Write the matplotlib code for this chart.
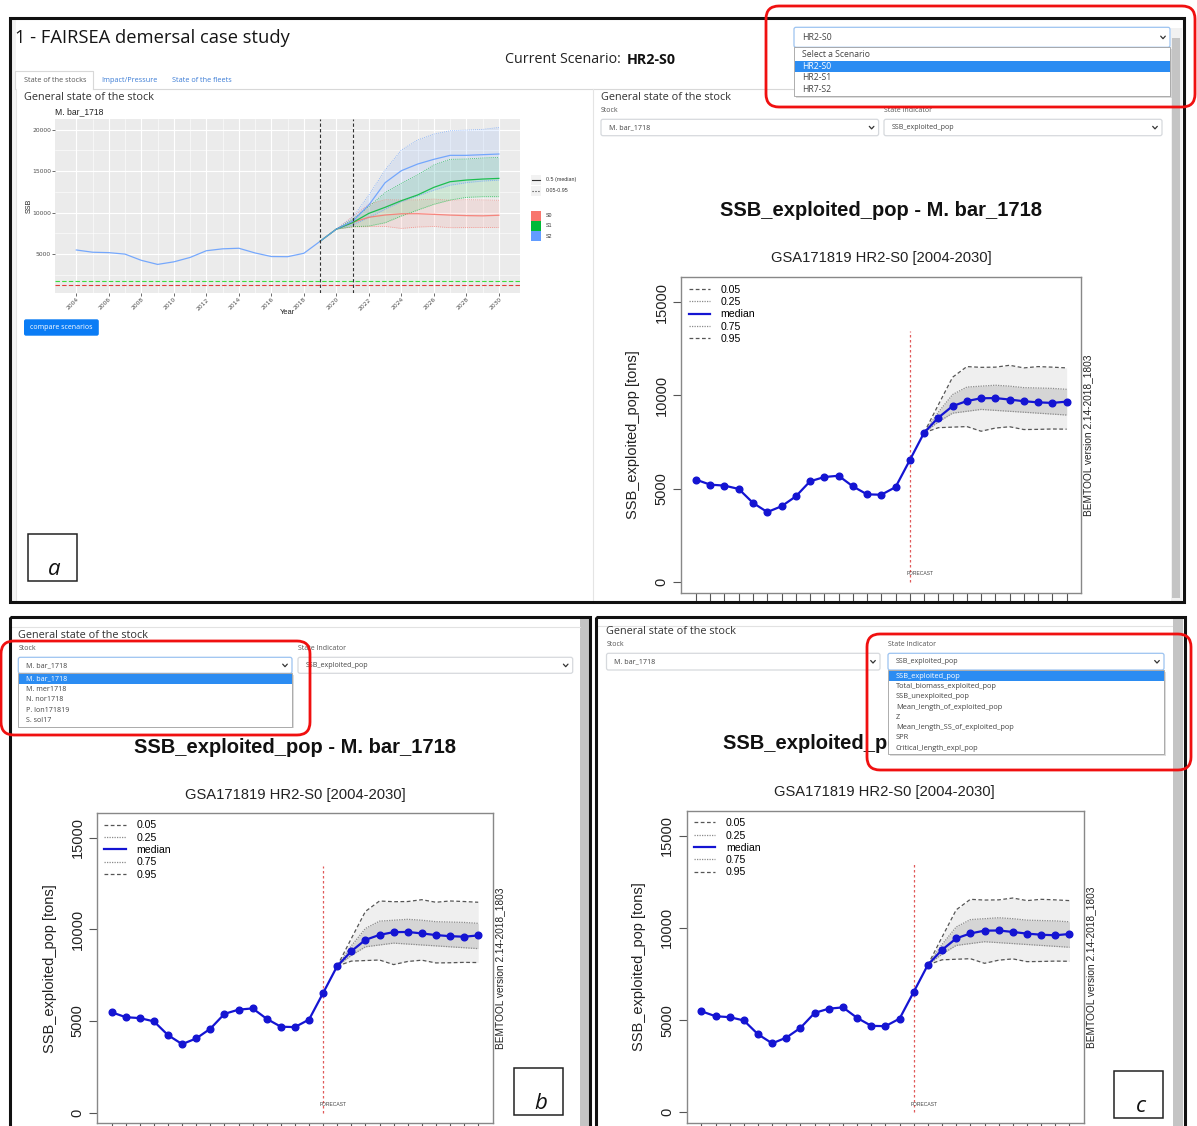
import numpy as np
import matplotlib
matplotlib.use("Agg")
import matplotlib.pyplot as plt
from matplotlib.patches import Rectangle, FancyBboxPatch
from matplotlib.lines import Line2D

W, H = 1197, 1126
UI = ["Open Sans", "DejaVu Sans"]
RF = ["Liberation Sans", "DejaVu Sans"]

# SSB of M. bar_1718 (tons)
hist_years = list(range(2004, 2020))
ssb_hist = [5480, 5210, 5160, 4980, 4230, 3740, 4050, 4580, 5390, 5620, 5690, 5120, 4690, 4670, 5080, 6530]
fc_years = list(range(2020, 2031))

# scenario S0 (HR2-S0) quantiles, BEMTOOL output
s0_med = [8000, 8810, 9430, 9700, 9850, 9860, 9780, 9690, 9630, 9600, 9670]
s0_q05 = [8000, 8270, 8300, 8330, 8080, 8250, 8320, 8170, 8180, 8200, 8190]
s0_q25 = [8000, 8580, 9050, 9150, 9250, 9200, 9150, 9100, 9050, 9000, 8950]
s0_q75 = [8000, 9100, 10050, 10450, 10500, 10550, 10500, 10420, 10400, 10380, 10330]
s0_q95 = [8000, 9500, 10980, 11550, 11510, 11520, 11620, 11480, 11550, 11520, 11480]

# scenarios S1 and S2 (compare plot)
s1_med = [8000, 8780, 9900, 10630, 11430, 12120, 13040, 13720, 13920, 14040, 14120]
s1_q05 = [8000, 8290, 8370, 8770, 9580, 10300, 10990, 11510, 11830, 11910, 11910]
s1_q95 = [8000, 9180, 10710, 12400, 13530, 14540, 15740, 16420, 16460, 16580, 16660]
s2_med = [8000, 8950, 10910, 13600, 15050, 15850, 16420, 16900, 16900, 16980, 17060]
s2_q05 = [8000, 8500, 9400, 10400, 11300, 12000, 12700, 13300, 13600, 13800, 13900]
s2_q95 = [8000, 9420, 12115, 15130, 17540, 18750, 19470, 19870, 19950, 20030, 20270]

ref_green = 1775
ref_red = 1255
scenario_names = ["S0", "S1", "S2"]
scenario_opts = ["Select a Scenario", "HR2-S0", "HR2-S1", "HR7-S2"]
stock_opts = ["M. bar_1718", "M. mer1718", "N. nor1718", "P. lon171819", "S. sol17"]
indicator_opts = ["SSB_exploited_pop", "Total_biomass_exploited_pop", "SSB_unexploited_pop",
                  "Mean_length_of_exploited_pop", "Z", "Mean_length_SS_of_exploited_pop",
                  "SPR", "Critical_length_expl_pop"]
legend_q = ["0.05", "0.25", "median", "0.75", "0.95"]

years = hist_years + fc_years
median = ssb_hist + s0_med

fig = plt.figure(figsize=(W / 100, H / 100), dpi=100)
bg = fig.add_axes([0, 0, 1, 1])
bg.set_xlim(0, W)
bg.set_ylim(H, 0)
bg.axis("off")


def px(l, t, r, b):
    return [l / W, 1 - b / H, (r - l) / W, (b - t) / H]


def txt(x, y, s, size=5.2, color="#444444", **kw):
    kw.setdefault("va", "center")
    kw.setdefault("family", UI)
    bg.text(x, y, s, fontsize=size, color=color, **kw)


def chevron(x, y, s=2.3):
    bg.plot([x - s, x, x + s], [y - s * 0.5, y + s * 0.6, y - s * 0.5], color="#333333", lw=0.9,
            solid_capstyle="round", zorder=6)


def select(x0, y0, x1, y1, label, focused=False, size=5.1):
    ec = "#9CC3F0" if focused else "#D6D9DD"
    bg.add_patch(FancyBboxPatch((x0, y0), x1 - x0, y1 - y0, boxstyle="round,pad=0,rounding_size=2",
                                fc="white", ec=ec, lw=0.9, zorder=4))
    txt(x0 + 8, (y0 + y1) / 2, label, size=size, zorder=5)
    chevron(x1 - 7, (y0 + y1) / 2)


def droplist(x0, y0, x1, items, sel, row, top=1.0, size=5.2):
    y1 = y0 + top + row * len(items) + 1
    bg.add_patch(Rectangle((x0 + 1.5, y0 + 1.5), x1 - x0, y1 - y0, fc="#BBBBBB", ec="none", alpha=0.5, zorder=7))
    bg.add_patch(Rectangle((x0, y0), x1 - x0, y1 - y0, fc="white", ec="#A0A0A0", lw=0.6, zorder=8))
    for i, it in enumerate(items):
        yc = y0 + top + (i + 0.5) * row
        col = "#444444"
        if i == sel:
            bg.add_patch(Rectangle((x0 + 0.5, yc - row / 2), x1 - x0 - 1, row, fc="#2B8CF2", ec="none", zorder=9))
            col = "white"
        txt(x0 + 8, yc, it, size=size, color=col, zorder=10)


def bemtool(rect):
    ax = fig.add_axes(px(*rect))
    ax.fill_between(fc_years, s0_q05, s0_q95, color="#EFEFEF", lw=0)
    ax.fill_between(fc_years, s0_q25, s0_q75, color="#D5D5D5", lw=0)
    dash = (0, (3, 2))
    dot = (0, (1, 1))
    ax.plot(fc_years, s0_q05, ls=dash, color="#555555", lw=0.9)
    ax.plot(fc_years, s0_q95, ls=dash, color="#555555", lw=0.9)
    ax.plot(fc_years, s0_q25, ls=dot, color="#8A8A8A", lw=0.9)
    ax.plot(fc_years, s0_q75, ls=dot, color="#8A8A8A", lw=0.9)
    ax.plot([2019, 2019], [0, 13450], ls=(0, (2, 2)), color="#E05A5A", lw=0.9)
    ax.plot(years, median, color="#1414D2", lw=1.6, marker="o", ms=4.8)
    ax.text(2018.75, 450, "FORECAST", fontsize=3.6, color="#444444", va="center", family=RF)
    ax.set_xlim(2002.97, 2031.02)
    ax.set_ylim(-585, 16350)
    ax.set_xticks(years)
    ax.set_xticklabels([])
    ax.set_yticks([0, 5000, 10000, 15000])
    ax.set_yticklabels(["0", "5000", "10000", "15000"], rotation=90, va="center",
                       fontsize=10.5, family=RF, color="#222222")
    ax.tick_params(direction="out", length=6, width=0.8, color="#555555", pad=3)
    for s in ax.spines.values():
        s.set_color("#888888")
        s.set_linewidth(1.0)
    ax.text(-0.12, 0.5, "SSB_exploited_pop [tons]", transform=ax.transAxes, rotation=90,
            ha="center", va="center", fontsize=10.5, family=RF, color="#222222")
    ax.text(1.018, 0.5, "BEMTOOL version 2.14-2018_1803", transform=ax.transAxes, rotation=90,
            ha="center", va="center", fontsize=7.3, family=RF, color="#222222")
    handles = [Line2D([], [], ls=dash, color="#555555", lw=0.9),
               Line2D([], [], ls=dot, color="#8A8A8A", lw=0.9),
               Line2D([], [], color="#1414D2", lw=1.6),
               Line2D([], [], ls=dot, color="#8A8A8A", lw=0.9),
               Line2D([], [], ls=dash, color="#555555", lw=0.9)]
    ax.legend(handles, legend_q, loc="upper left", frameon=False, prop={"family": RF, "size": 7.6},
              handlelength=2.0, handletextpad=1.0, labelspacing=0.22, borderaxespad=0.3)
    return ax


def titles(cx, ty, sy):
    txt(cx, ty, "SSB_exploited_pop - M. bar_1718", size=14.5, color="#111111", ha="center",
        family=RF, weight="bold", zorder=2)
    txt(cx, sy, "GSA171819 HR2-S0 [2004-2030]", size=10.6, color="#222222", ha="center", family=RF, zorder=2)


# ---------------- panel a ----------------
bg.add_patch(Rectangle((11, 20), 5, 581, fc="#F3F3F3", ec="none"))
txt(15, 38, "1 - FAIRSEA demersal case study", size=13.2, color="#151515")
txt(621, 59.5, "Current Scenario:", size=10.3, color="#222222", ha="right")
txt(627, 59.5, "HR2-S0", size=10.3, color="#111111", weight="bold")
# tabs
bg.plot([15, 15, 93, 93], [89, 71, 71, 89], color="#D8D8D8", lw=0.8)
bg.plot([93, 1168], [89, 89], color="#D8D8D8", lw=0.8)
bg.plot([16, 16], [89, 601], color="#E4E4E4", lw=0.8)
bg.plot([593, 593], [89, 601], color="#E4E4E4", lw=0.8)
txt(24, 80, "State of the stocks", size=5.2, color="#555555")
txt(101, 80, "Impact/Pressure", size=5.2, color="#3A7BD5")
txt(172, 80, "State of the fleets", size=5.2, color="#3A7BD5")
txt(24, 97, "General state of the stock", size=7.8, color="#333333")
txt(601, 97, "General state of the stock", size=7.8, color="#333333")

# compare scenarios plot (ggplot style)
gg = fig.add_axes(px(55.2, 119.3, 520, 292.7))
gg.set_facecolor("#EBEBEB")
gcols = ["#F8766D", "#00BA38", "#619CFF"]
meds = [s0_med, s1_med, s2_med]
lows = [s0_q05, s1_q05, s2_q05]
highs = [s0_q95, s1_q95, s2_q95]
for med, lo, hi, col in zip(meds, lows, highs, gcols):
    gg.fill_between(fc_years, lo, hi, color=col, alpha=0.13, lw=0)
    gg.plot(fc_years, lo, color=col, ls=(0, (1, 1.5)), lw=0.6, alpha=0.8)
    gg.plot(fc_years, hi, color=col, ls=(0, (1, 1.5)), lw=0.6, alpha=0.8)
gg.plot(hist_years, ssb_hist, color=gcols[2], lw=0.9, alpha=0.85)
for med, col in zip(meds, gcols):
    gg.plot([hist_years[-1]] + fc_years, [ssb_hist[-1]] + med, color=col, lw=0.9, alpha=0.85)
gg.axhline(ref_green, color="#3CDB3C", ls=(0, (4, 2)), lw=0.8)
gg.axhline(ref_red, color="#E03C3C", ls=(0, (4, 2)), lw=0.8)
gg.axvline(2019, color="#333333", ls=(0, (3, 2)), lw=0.8)
gg.axvline(2021, color="#333333", ls=(0, (3, 2)), lw=0.8)
gg.set_xlim(2002.7, 2031.3)
gg.set_ylim(326, 21250)
gg.set_xticks(range(2004, 2031, 2))
gg.set_xticks(range(2005, 2030, 2), minor=True)
gg.set_yticks([5000, 10000, 15000, 20000])
gg.set_yticks([2500, 7500, 12500, 17500], minor=True)
gg.grid(which="major", color="white", lw=0.8)
gg.grid(which="minor", color="white", lw=0.4)
gg.set_axisbelow(True)
for s in gg.spines.values():
    s.set_visible(False)
gg.tick_params(which="major", length=2, width=0.5, color="#333333", labelsize=4.3,
               labelcolor="#4D4D4D", pad=1)
gg.tick_params(which="minor", length=0)
plt.setp(gg.get_xticklabels(), rotation=45, ha="right", rotation_mode="anchor")
txt(55, 112, "M. bar_1718", size=6.2, color="#222222", family=RF)
txt(29, 206, "SSB", size=5.2, color="#222222", family=RF, rotation=90, ha="center")
txt(287, 313, "Year", size=5.4, color="#222222", family=RF, ha="center")
# ggplot legend
for yy, ls in [(180, "-"), (190.5, ":")]:
    bg.add_patch(Rectangle((531, yy - 5), 10, 10, fc="#F2F2F2", ec="none"))
    bg.plot([532, 540], [yy, yy], color="#333333", lw=0.8, ls=ls)
txt(546, 180, "0.5 (median)", size=3.8, color="#333333", family=RF)
txt(546, 190.5, "0.05-0.95", size=3.8, color="#333333", family=RF)
for i, (nm, col) in enumerate(zip(scenario_names, gcols)):
    y0 = 211 + i * 10.1
    bg.add_patch(Rectangle((531.3, y0), 9.4, 9.6, fc=col, ec="none"))
    txt(546, y0 + 4.8, nm, size=3.8, color="#333333", family=RF)

bg.add_patch(FancyBboxPatch((24, 319.3), 74.8, 16.4, boxstyle="round,pad=0,rounding_size=2",
                            fc="#0A7CF5", ec="none"))
txt(61.4, 327.5, "compare scenarios", size=5.0, color="white", ha="center")

# right side of panel a
txt(601, 111, "Stock", size=5.0, color="#555555")
txt(884, 111, "State Indicator", size=5.0, color="#555555")
select(601, 119.3, 878.6, 135.7, "M. bar_1718")
select(884, 119.3, 1162, 135.7, "SSB_exploited_pop")
titles(881, 210.7, 258.3)
bemtool((681.3, 277.2, 1081.2, 592.6))

# scrollbar
bg.add_patch(Rectangle((1170.5, 28), 11, 573, fc="#F1F1F1", ec="none"))
bg.add_patch(Rectangle((1172, 38), 8, 560, fc="#C4C4C4", ec="none"))
select(794, 27.3, 1170, 47.3, "HR2-S0", focused=True, size=6.4)
droplist(794, 47.3, 1170, scenario_opts, 1, 11.5, top=1.8, size=6.2)

# ---------------- panel b ----------------
bg.plot([12, 580], [627, 627], color="#E2E2E2", lw=0.8)
bg.add_patch(Rectangle((580, 619), 8.5, 510, fc="#C4C4C4", ec="none"))
txt(18.3, 635, "General state of the stock", size=7.8, color="#333333")
txt(18.3, 648.7, "Stock", size=5.0, color="#555555")
txt(298, 648.7, "State Indicator", size=5.0, color="#555555")
select(298, 657.3, 572.7, 673.3, "SSB_exploited_pop")
titles(295, 747.3, 795)
bemtool((97.1, 813.0, 492.6, 1123.4))
select(18.3, 657.3, 292, 673.3, "M. bar_1718", focused=True)
droplist(18.3, 673.3, 292, stock_opts, 0, 10.35, top=0.8, size=5.1)

# ---------------- panel c ----------------
bg.plot([598, 1172], [626, 626], color="#E2E2E2", lw=0.8)
bg.add_patch(Rectangle((1173, 619), 10, 510, fc="#C4C4C4", ec="none"))
txt(606.5, 631, "General state of the stock", size=7.8, color="#333333")
txt(606.5, 645, "Stock", size=5.0, color="#555555")
txt(888, 645, "State Indicator", size=5.0, color="#555555")
select(606.5, 653.3, 880, 670, "M. bar_1718")
titles(884, 743.3, 791.7)
bemtool((686.8, 810.8, 1083.9, 1123.1))
select(888, 653.3, 1164, 670, "SSB_exploited_pop", focused=True)
droplist(888, 670, 1164, indicator_opts, 0, 10.3, top=1.0, size=5.3)

# ---------------- overlay: frames, highlights, panel letters ----------------
ov = fig.add_axes([0, 0, 1, 1])
ov.set_xlim(0, W)
ov.set_ylim(H, 0)
ov.axis("off")
ov.patch.set_alpha(0)
for x0, y0, w, h in [(10, 18, 1174, 584), (10, 617, 580, 520), (596, 617, 589, 520)]:
    ov.add_patch(Rectangle((x0, y0), w, h, fc="none", ec="#111111", lw=2.2))
for x0, y0, x1, y1 in [(766, 6, 1195, 107), (1, 641, 310, 735), (867, 634, 1191, 770)]:
    ov.add_patch(FancyBboxPatch((x0, y0), x1 - x0, y1 - y0, boxstyle="round,pad=0,rounding_size=13",
                                fc="none", ec="#F01010", lw=2.0))
for (x0, y0, x1, y1), lab in zip([(28.3, 534, 76.7, 580.7), (514, 1068, 563, 1115), (1114, 1071, 1163, 1118)],
                                 ["a", "b", "c"]):
    ov.add_patch(Rectangle((x0, y0), x1 - x0, y1 - y0, fc="white", ec="#222222", lw=1.1))
    ov.text((x0 + x1) / 2 + 2, y1 - 6, lab, fontsize=16, style="italic", family=UI,
            ha="center", va="baseline", color="#111111")

fig.savefig("out.png", dpi=100)
